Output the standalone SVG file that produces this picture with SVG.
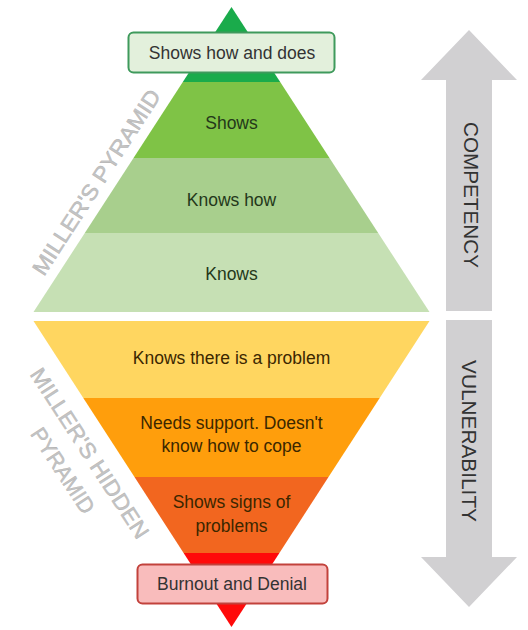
<svg xmlns="http://www.w3.org/2000/svg" width="528" height="630" viewBox="0 0 528 630">
  <style>
    .lbl { font-family: "Liberation Sans", Arial, sans-serif; font-size: 17.5px; text-anchor: middle; }
    .g { fill: #24381a; }
    .o { fill: #3b2700; }
    .box { fill: #333333; }
    .side { font-family: "Liberation Sans", Arial, sans-serif; font-size: 22px; fill: #c4c4c4; stroke: #b0b0b0; stroke-width: 0.4; text-anchor: middle; }
    .arrowtxt { font-family: "Liberation Sans", Arial, sans-serif; font-size: 20px; fill: #333333; text-anchor: middle; }
    .arrow { fill: #d1d0d2; }
  </style>
  <rect width="528" height="630" fill="#ffffff"/>

  <!-- Miller's pyramid -->
  <g id="tip-top">
    <polygon points="231.5,7 280.2,82 182.8,82" fill="#1aab4b"/>
  </g>
  <g id="shows">
    <polygon points="182.8,82 280.2,82 329.5,158 133.5,158" fill="#7fc346"/>
    <text class="lbl g" x="231.5" y="129">Shows</text>
  </g>
  <g id="knows-how">
    <polygon points="133.5,158 329.5,158 378.2,233 84.8,233" fill="#a8cf8d"/>
    <text class="lbl g" x="231.5" y="206">Knows how</text>
  </g>
  <g id="knows">
    <polygon points="84.8,233 378.2,233 429.5,312 33.5,312" fill="#c6e0b4"/>
    <text class="lbl g" x="231.5" y="280">Knows</text>
  </g>
  <g id="shows-how-and-does">
    <rect x="128.5" y="32.5" width="206" height="40" rx="5" fill="#e3f0dc" stroke="#3f9a5c" stroke-width="2"/>
    <text class="lbl box" x="232" y="59">Shows how and does</text>
  </g>

  <!-- Miller's hidden pyramid -->
  <g id="knows-problem">
    <polygon points="33.5,321 429.5,321 379.7,398 83.3,398" fill="#ffd660"/>
    <text class="lbl o" x="231.5" y="364">Knows there is a problem</text>
  </g>
  <g id="needs-support">
    <polygon points="83.3,398 379.7,398 328.5,477 134.5,477" fill="#ff9e0c"/>
    <text class="lbl o" x="231.5" y="429">Needs support. Doesn't</text>
    <text class="lbl o" x="231.5" y="452">know how to cope</text>
  </g>
  <g id="shows-signs">
    <polygon points="134.5,477 328.5,477 279.4,553 183.6,553" fill="#f2661f"/>
    <text class="lbl o" x="231.5" y="508">Shows signs of</text>
    <text class="lbl o" x="231.5" y="532">problems</text>
  </g>
  <g id="tip-bottom">
    <polygon points="183.6,553 279.4,553 231.5,627" fill="#ff0a0a"/>
  </g>
  <g id="burnout-and-denial">
    <rect x="137.5" y="564.5" width="190" height="39" rx="5" fill="#f9bcbc" stroke="#c2423c" stroke-width="2"/>
    <text class="lbl box" x="232" y="590">Burnout and Denial</text>
  </g>

  <!-- side labels -->
  <g id="millers-pyramid-label">
    <text class="side" transform="translate(96,182) rotate(-57)" x="0" y="8" textLength="216" lengthAdjust="spacingAndGlyphs">MILLER'S PYRAMID</text>
  </g>
  <g id="millers-hidden-pyramid-label">
    <g transform="translate(90,453) rotate(57)">
      <text class="side" x="0" y="8" textLength="198" lengthAdjust="spacingAndGlyphs">MILLER'S HIDDEN</text>
      <text class="side" x="0" y="40" textLength="98" lengthAdjust="spacingAndGlyphs">PYRAMID</text>
    </g>
  </g>

  <!-- connectors / arrows -->
  <g id="connectors">
    <g id="competency">
      <polygon class="arrow" points="469,30 517,80 492,80 492,311 446,311 446,80 421,80"/>
      <text class="arrowtxt" transform="translate(471,195) rotate(90)" x="0" y="7" textLength="146" lengthAdjust="spacingAndGlyphs">COMPETENCY</text>
    </g>
    <g id="vulnerability">
      <polygon class="arrow" points="446,320 492,320 492,557 517,557 469,607 421,557 446,557"/>
      <text class="arrowtxt" transform="translate(469,441) rotate(90)" x="0" y="7" textLength="162" lengthAdjust="spacingAndGlyphs">VULNERABILITY</text>
    </g>
  </g>
</svg>
